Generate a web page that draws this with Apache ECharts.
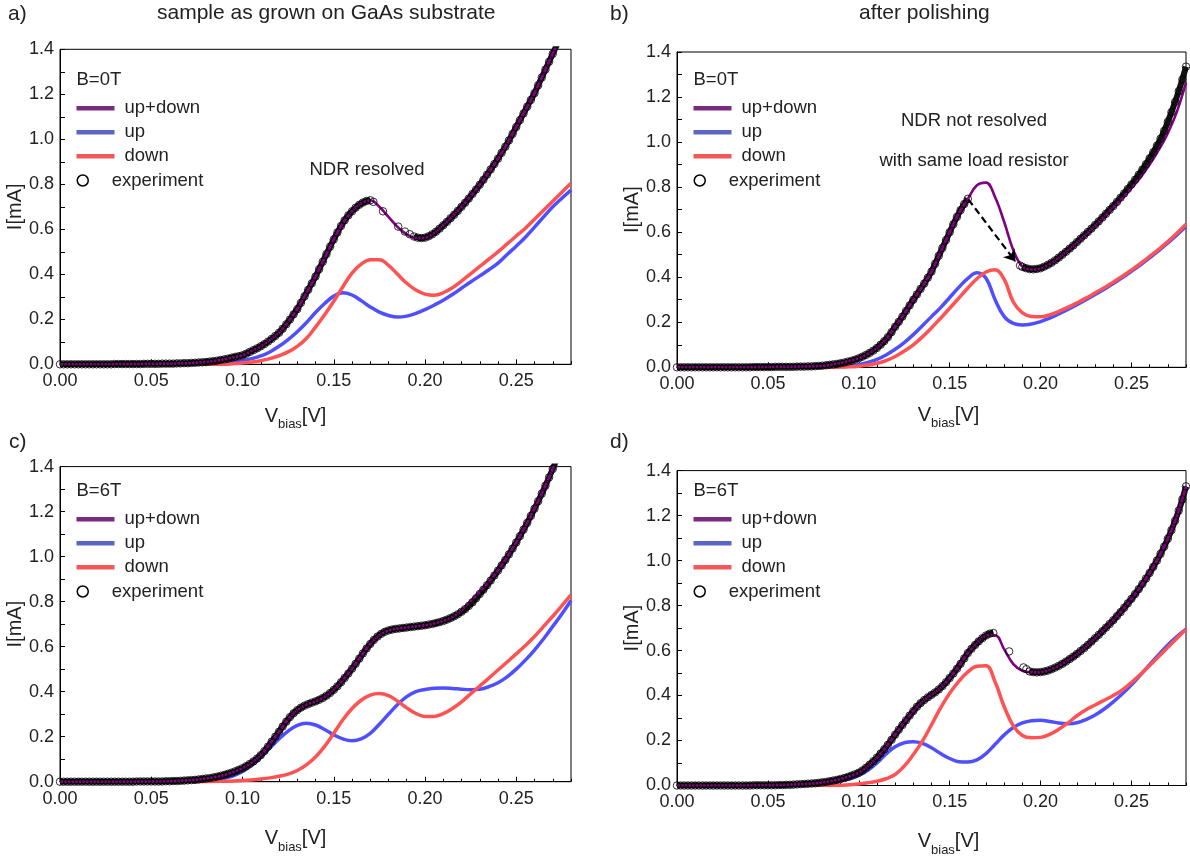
<!DOCTYPE html>
<html>
<head>
<meta charset="utf-8">
<script src="https://cdn.jsdelivr.net/npm/echarts@6/dist/echarts.min.js"></script>
<style>
  html, body { margin: 0; padding: 0; background: #fff; }
  #chart { width: 1190px; height: 860px; }
</style>
</head>
<body>
<div id="chart"></div>
<script>
// Bias voltage grid of the model curves [V]
const vModel = [
  0.000, 0.005, 0.010, 0.015, 0.020, 0.025, 0.030, 0.035, 0.040, 0.045,
  0.050, 0.055, 0.060, 0.065, 0.070, 0.075, 0.080, 0.085, 0.090, 0.095,
  0.100, 0.105, 0.110, 0.115, 0.120, 0.125, 0.130, 0.135, 0.140, 0.145,
  0.150, 0.155, 0.160, 0.165, 0.170, 0.175, 0.180, 0.185, 0.190, 0.195,
  0.200, 0.205, 0.210, 0.215, 0.220, 0.225, 0.230, 0.235, 0.240, 0.245,
  0.250, 0.255, 0.260, 0.265, 0.270, 0.275, 0.280
];

// Bias voltage grid of the measured I-V points [V]
const vExp = [
  0.000, 0.002, 0.004, 0.006, 0.008, 0.010, 0.012, 0.014, 0.016, 0.018,
  0.020, 0.022, 0.024, 0.026, 0.028, 0.030, 0.032, 0.034, 0.036, 0.038,
  0.040, 0.042, 0.044, 0.046, 0.048, 0.050, 0.052, 0.054, 0.056, 0.058,
  0.060, 0.062, 0.064, 0.066, 0.068, 0.070, 0.072, 0.074, 0.076, 0.078,
  0.080, 0.082, 0.084, 0.086, 0.088, 0.090, 0.092, 0.094, 0.096, 0.098,
  0.100, 0.102, 0.104, 0.106, 0.108, 0.110, 0.112, 0.114, 0.116, 0.118,
  0.120, 0.122, 0.124, 0.126, 0.128, 0.130, 0.132, 0.134, 0.136, 0.138,
  0.140, 0.142, 0.144, 0.146, 0.148, 0.150, 0.152, 0.154, 0.156, 0.158,
  0.160, 0.162, 0.164, 0.166, 0.168, 0.170, 0.172, 0.174, 0.176, 0.178,
  0.180, 0.182, 0.184, 0.186, 0.188, 0.190, 0.192, 0.194, 0.196, 0.198,
  0.200, 0.202, 0.204, 0.206, 0.208, 0.210, 0.212, 0.214, 0.216, 0.218,
  0.220, 0.222, 0.224, 0.226, 0.228, 0.230, 0.232, 0.234, 0.236, 0.238,
  0.240, 0.242, 0.244, 0.246, 0.248, 0.250, 0.252, 0.254, 0.256, 0.258,
  0.260, 0.262, 0.264, 0.266, 0.268, 0.270, 0.272, 0.274, 0.276, 0.278,
  0.280
];

// ---- a) as grown, B = 0 T ----  current [mA]
const sumA = [0,0,0,0,0,0,0.001,0.001,0.001,0.002,
  0.002,0.003,0.003,0.004,0.005,0.007,0.010,0.015,0.022,0.031,
  0.040,0.059,0.080,0.107,0.140,0.188,0.245,0.317,0.390,0.473,
  0.555,0.628,0.680,0.715,0.729,0.700,0.655,0.610,0.577,0.561,
  0.562,0.583,0.618,0.657,0.700,0.747,0.798,0.855,0.914,0.980,
  1.055,1.130,1.205,1.293,1.380,1.470,1.560];
const upA = [0,0,0,0,0,0,0,0,0,0,
  0,0,0,0,0,0,0.001,0.003,0.006,0.010,
  0.016,0.025,0.037,0.055,0.080,0.110,0.145,0.185,0.230,0.270,
  0.303,0.318,0.308,0.283,0.255,0.232,0.217,0.210,0.214,0.226,
  0.243,0.263,0.285,0.310,0.338,0.366,0.393,0.420,0.450,0.488,
  0.525,0.565,0.610,0.655,0.700,0.738,0.775];
const downA = [0,0,0,0,0,0,0,0,0,0,
  0,0,0,0,0,0,0,0,0,0.003,
  0.006,0.010,0.016,0.025,0.038,0.055,0.080,0.115,0.165,0.220,
  0.280,0.345,0.405,0.445,0.465,0.465,0.440,0.400,0.360,0.330,
  0.312,0.307,0.318,0.340,0.370,0.402,0.435,0.467,0.500,0.535,
  0.570,0.605,0.645,0.685,0.725,0.765,0.805];
const expA = [0,0,0,0,0,0,0,0,0,0,
  0,0,0,0,0,0.001,0.001,0.001,0.001,0.001,
  0.001,0.001,0.001,0.002,0.002,0.002,0.002,0.002,0.003,0.003,
  0.003,0.003,0.004,0.004,0.005,0.005,0.006,0.007,0.008,0.009,
  0.010,0.012,0.014,0.016,0.019,0.022,0.025,0.029,0.033,0.036,
  0.040,0.047,0.055,0.063,0.071,0.080,0.090,0.101,0.113,0.126,
  0.140,0.158,0.178,0.199,0.222,0.245,0.273,0.302,0.331,0.360,
  0.390,0.423,0.456,0.490,0.523,0.555,0.586,0.615,0.640,0.662,
  0.680,0.696,0.709,0.719,0.726,0.729,null,null,null,null,
  null,null,null,null,null,null,null,0.568,0.563,0.561,
  0.563,0.569,0.578,0.589,0.603,0.618,0.633,0.649,0.665,0.682,
  0.700,0.718,0.737,0.757,0.777,0.798,0.820,0.843,0.866,0.890,
  0.914,0.940,0.967,0.995,1.024,1.055,1.085,1.115,1.145,1.175,
  1.205,1.240,1.275,1.310,1.345,1.380,1.415,1.450,1.485,1.520,
  1.555];
const jumpA = [[0.1717, 0.722], [0.1770, 0.680], [0.1853, 0.612], [0.1890, 0.590], [0.1916, 0.578]];

// ---- b) after polishing, B = 0 T ----
const sumB = [0,0,0,0,0,0,0,0,0,0.001,
  0.001,0.002,0.002,0.003,0.004,0.005,0.007,0.012,0.020,0.030,
  0.040,0.060,0.086,0.125,0.180,0.238,0.300,0.360,0.425,0.512,
  0.600,0.683,0.748,0.808,0.820,0.755,0.645,0.520,0.447,0.434,
  0.438,0.458,0.485,0.518,0.553,0.590,0.628,0.668,0.710,0.750,
  0.795,0.843,0.900,0.965,1.040,1.135,1.265];
const upB = [0,0,0,0,0,0,0,0,0,0,
  0,0,0,0,0,0,0,0.002,0.003,0.006,
  0.012,0.022,0.035,0.055,0.080,0.110,0.145,0.185,0.225,0.265,
  0.310,0.355,0.395,0.420,0.395,0.300,0.225,0.195,0.188,0.192,
  0.203,0.218,0.237,0.257,0.278,0.300,0.323,0.347,0.372,0.398,
  0.426,0.455,0.486,0.518,0.552,0.588,0.625];
const downB = [0,0,0,0,0,0,0,0,0,0,
  0,0,0,0,0,0,0,0,0.001,0.002,
  0.005,0.010,0.018,0.030,0.048,0.072,0.100,0.135,0.175,0.218,
  0.262,0.307,0.352,0.393,0.423,0.433,0.390,0.290,0.242,0.226,
  0.224,0.233,0.248,0.266,0.286,0.307,0.330,0.353,0.378,0.404,
  0.432,0.461,0.492,0.524,0.558,0.595,0.635];
const expB = [0,0,0,0,0,0,0,0,0,0,
  0,0,0,0,0,0,0,0,0,0,
  0,0.001,0.001,0.001,0.001,0.001,0.001,0.002,0.002,0.002,
  0.002,0.002,0.002,0.003,0.003,0.003,0.004,0.004,0.005,0.006,
  0.007,0.009,0.011,0.013,0.015,0.018,0.021,0.025,0.029,0.034,
  0.040,0.047,0.055,0.064,0.074,0.086,0.100,0.116,0.134,0.156,
  0.180,0.202,0.225,0.250,0.275,0.300,0.324,0.348,0.372,0.398,
  0.425,0.460,0.495,0.530,0.565,0.600,0.635,0.668,0.698,0.725,
  0.748,null,null,null,null,null,null,null,null,null,
  null,null,null,null,null,0.446,0.440,0.436,0.435,0.437,
  0.440,0.447,0.455,0.464,0.475,0.487,0.500,0.513,0.527,0.541,
  0.556,0.571,0.586,0.601,0.616,0.632,0.648,0.665,0.682,0.699,
  0.716,0.734,0.753,0.772,0.792,0.812,0.833,0.855,0.878,0.902,
  0.928,0.955,0.984,1.015,1.050,1.090,1.133,1.178,1.226,1.278,
  1.335];
const jumpB = [[0.1887, 0.452]];

// ---- c) as grown, B = 6 T ----
const sumC = [0,0,0,0,0,0,0,0,0,0.001,
  0.001,0.001,0.002,0.004,0.006,0.009,0.014,0.021,0.030,0.043,
  0.060,0.084,0.118,0.168,0.222,0.277,0.318,0.342,0.357,0.377,
  0.408,0.452,0.502,0.558,0.612,0.651,0.672,0.680,0.685,0.690,
  0.695,0.703,0.714,0.731,0.760,0.803,0.845,0.888,0.938,0.998,
  1.063,1.135,1.213,1.298,1.390,1.490,1.600];
const upC = [0,0,0,0,0,0,0,0,0,0,
  0,0,0.001,0.001,0.002,0.003,0.005,0.009,0.015,0.026,
  0.045,0.073,0.108,0.150,0.190,0.225,0.250,0.260,0.252,0.232,
  0.208,0.190,0.182,0.190,0.215,0.255,0.300,0.343,0.378,0.400,
  0.410,0.415,0.416,0.414,0.411,0.409,0.411,0.422,0.440,0.466,
  0.500,0.540,0.585,0.635,0.690,0.745,0.805];
const downC = [0,0,0,0,0,0,0,0,0,0,
  0,0,0,0,0,0,0,0.001,0.002,0.003,
  0.005,0.008,0.012,0.017,0.024,0.034,0.050,0.075,0.110,0.157,
  0.215,0.275,0.325,0.362,0.385,0.392,0.382,0.358,0.328,0.303,
  0.290,0.290,0.302,0.325,0.355,0.390,0.425,0.460,0.496,0.532,
  0.568,0.605,0.645,0.690,0.735,0.782,0.830];
const expC = [0,0,0,0,0,0,0,0,0,0,
  0,0,0,0,0,0,0,0,0,0,
  0,0.001,0.001,0.001,0.001,0.001,0.001,0.001,0.001,0.002,
  0.002,0.003,0.003,0.004,0.005,0.006,0.007,0.008,0.010,0.012,
  0.014,0.016,0.019,0.022,0.026,0.030,0.035,0.040,0.046,0.053,
  0.060,0.069,0.079,0.090,0.103,0.118,0.136,0.156,0.178,0.200,
  0.222,0.245,0.267,0.287,0.304,0.318,0.329,0.338,0.345,0.351,
  0.357,0.364,0.372,0.382,0.394,0.408,0.424,0.442,0.461,0.481,
  0.502,0.524,0.547,0.570,0.592,0.612,0.630,0.645,0.657,0.666,
  0.672,0.676,0.679,0.681,0.683,0.685,0.687,0.689,0.691,0.693,
  0.695,0.698,0.701,0.705,0.709,0.714,0.720,0.727,0.735,0.744,
  0.755,0.767,0.781,0.797,0.815,0.834,0.853,0.873,0.894,0.916,
  0.938,0.961,0.985,1.010,1.036,1.063,1.091,1.120,1.150,1.181,
  1.213,1.246,1.280,1.315,1.352,1.390,1.430,1.470,1.510,1.550,
  1.590];
const jumpC = [];

// ---- d) after polishing, B = 6 T ----
const sumD = [0,0,0,0,0,0,0,0,0,0.001,
  0.001,0.002,0.003,0.005,0.007,0.009,0.014,0.020,0.029,0.041,
  0.057,0.086,0.124,0.171,0.226,0.280,0.331,0.373,0.403,0.434,
  0.478,0.530,0.589,0.633,0.667,0.668,0.605,0.540,0.510,0.503,
  0.504,0.514,0.532,0.556,0.585,0.618,0.655,0.694,0.735,0.780,
  0.830,0.884,0.945,1.015,1.097,1.199,1.330];
const upD = [0,0,0,0,0,0,0,0,0,0,
  0,0.001,0.002,0.003,0.004,0.006,0.009,0.013,0.020,0.030,
  0.045,0.068,0.100,0.140,0.172,0.190,0.194,0.187,0.168,0.142,
  0.120,0.106,0.104,0.114,0.142,0.183,0.225,0.258,0.278,0.288,
  0.290,0.285,0.278,0.275,0.279,0.293,0.313,0.340,0.372,0.408,
  0.448,0.492,0.537,0.582,0.625,0.662,0.695];
const downD = [0,0,0,0,0,0,0,0,0,0,
  0,0,0,0,0,0,0,0,0.001,0.003,
  0.007,0.012,0.019,0.030,0.049,0.086,0.138,0.197,0.270,0.345,
  0.410,0.463,0.505,0.530,0.532,0.460,0.350,0.265,0.222,0.212,
  0.214,0.227,0.250,0.278,0.310,0.337,0.358,0.379,0.400,0.425,
  0.458,0.494,0.533,0.573,0.614,0.655,0.695];
const expD = [0,0,0,0,0,0,0,0,0,0,
  0,0,0,0,0,0,0,0,0,0,
  0,0.001,0.001,0.001,0.001,0.001,0.001,0.001,0.002,0.002,
  0.003,0.003,0.004,0.005,0.006,0.007,0.008,0.009,0.010,0.012,
  0.014,0.016,0.019,0.022,0.025,0.029,0.033,0.038,0.044,0.050,
  0.057,0.067,0.079,0.093,0.108,0.124,0.142,0.161,0.181,0.203,
  0.226,0.248,0.269,0.290,0.311,0.331,0.350,0.366,0.380,0.392,
  0.403,0.414,0.427,0.442,0.459,0.478,0.498,0.519,0.541,0.565,
  0.589,0.608,0.625,0.641,0.655,0.667,0.675,0.678,null,null,
  null,null,null,null,null,null,null,0.507,0.504,0.503,
  0.504,0.507,0.511,0.517,0.524,0.532,0.541,0.551,0.562,0.573,
  0.585,0.598,0.611,0.625,0.640,0.655,0.670,0.686,0.702,0.718,
  0.735,0.753,0.771,0.790,0.810,0.830,0.851,0.873,0.896,0.920,
  0.945,0.972,1.000,1.030,1.062,1.097,1.135,1.177,1.222,1.272,
  1.330];
const jumpD = [[0.1827, 0.596], [0.1906, 0.525], [0.1922, 0.517]];

// Axis ticks
const xMax = 0.28, xMajor = 0.05, xMinor = 0.01;
const yMax = 1.4, yMajor = 0.2;

// Panel texts
const panelLetters = ['a)', 'b)', 'c)', 'd)'];
const fieldLabels = ['B=0T', 'B=0T', 'B=6T', 'B=6T'];
const legendNames = ['up+down', 'up', 'down', 'experiment'];

// Layout of the four plot boxes (px)
const boxes = [
  { left: 60,  top: 49.3,  width: 511, height: 315,   nameGap: 45, namePad: [0, 40, 0, 0], yGap: 28 },
  { left: 677, top: 52,    width: 509, height: 315.3, nameGap: 41, namePad: [0, 0, 0, 34], yGap: 35 },
  { left: 60,  top: 466.6, width: 511, height: 315.1, nameGap: 50, namePad: [0, 40, 0, 0], yGap: 28 },
  { left: 677, top: 470.6, width: 509, height: 314.9, nameGap: 49, namePad: [0, 0, 0, 34], yGap: 35 }
];
const legendRows = [108.2, 108.2, 519.2, 519.2];

const panels = [
  { sum: sumA, up: upA, down: downA, exp: expA, jump: jumpA },
  { sum: sumB, up: upB, down: downB, exp: expB, jump: jumpB },
  { sum: sumC, up: upC, down: downC, exp: expC, jump: jumpC },
  { sum: sumD, up: upD, down: downD, exp: expD, jump: jumpD }
];

const FONT = '"Liberation Sans", Arial, Helvetica, sans-serif';
const TXT = '#222';
const COL = { sum: '#800080', up: '#4f4fff', down: '#ff5252' };
const LEG = { sum: '#7b2a82', up: '#5a66c6', down: '#f25858' };

// keeps nulls so a line breaks where the measurement jumps
const pairsKeep = (xs, ys) => xs.map((x, i) => [x, ys[i]]);
const pairs = (xs, ys) => pairsKeep(xs, ys).filter(p => p[1] !== null);

const grid = [], xAxis = [], yAxis = [], series = [], legend = [], graphic = [];

boxes.forEach((b, i) => {
  grid.push({ left: b.left, top: b.top, width: b.width, height: b.height,
    show: true, borderColor: '#000', borderWidth: 1, backgroundColor: 'transparent' });

  // major ticks + labels
  xAxis.push({
    type: 'value', gridIndex: i, position: 'bottom', min: 0, max: xMax, interval: xMajor,
    axisLine: { show: true, lineStyle: { color: '#000', width: 1 } },
    axisTick: { show: true, inside: true, length: 5, lineStyle: { color: '#000' } },
    axisLabel: { formatter: v => v.toFixed(2), showMaxLabel: false, margin: 8,
      fontSize: 18, color: TXT, fontFamily: FONT },
    splitLine: { show: false },
    name: '{v|V}{s|bias}{v|[V]}', nameLocation: 'middle', nameGap: b.nameGap,
    nameTextStyle: {
      padding: b.namePad, color: TXT, fontFamily: FONT,
      rich: {
        v: { fontSize: 20, lineHeight: 22, padding: [0, 0, 5, 0], verticalAlign: 'bottom', color: TXT, fontFamily: FONT },
        s: { fontSize: 13, lineHeight: 13, verticalAlign: 'bottom', color: TXT, fontFamily: FONT }
      }
    }
  });
  // minor ticks
  xAxis.push({
    type: 'value', gridIndex: i, position: 'bottom', min: 0, max: xMax, interval: xMinor,
    axisLine: { show: false },
    axisTick: { show: true, inside: true, length: 3, lineStyle: { color: '#000' } },
    axisLabel: { show: false }, splitLine: { show: false }
  });

  yAxis.push({
    type: 'value', gridIndex: i, min: 0, max: yMax, interval: yMajor,
    axisLine: { show: true, lineStyle: { color: '#000', width: 1 } },
    axisTick: { show: true, inside: true, length: 5, lineStyle: { color: '#000' } },
    minorTick: { show: true, splitNumber: 2, length: 5, lineStyle: { color: '#000' } },
    axisLabel: { formatter: v => v.toFixed(1), margin: 6, fontSize: 18, color: TXT, fontFamily: FONT },
    splitLine: { show: false },
    name: 'I[mA]', nameLocation: 'middle', nameGap: b.yGap,
    nameTextStyle: { fontSize: 20, color: TXT, fontFamily: FONT }
  });

  const p = panels[i];
  const common = { xAxisIndex: 2 * i, yAxisIndex: i, showSymbol: false, smooth: 0.4,
    animation: false, silent: true };
  series.push(Object.assign({ type: 'line', name: 'up', data: pairs(vModel, p.up),
    lineStyle: { color: COL.up, width: 3.5 }, itemStyle: { color: COL.up }, z: 2 }, common));
  series.push(Object.assign({ type: 'line', name: 'down', data: pairs(vModel, p.down),
    lineStyle: { color: COL.down, width: 3.5 }, itemStyle: { color: COL.down }, z: 2 }, common));

  // dense measured points form a dark band under the circles
  series.push({
    type: 'line', name: 'experiment', xAxisIndex: 2 * i, yAxisIndex: i,
    data: pairsKeep(vExp, p.exp), connectNulls: false, showSymbol: false, smooth: 0.3,
    lineStyle: { color: '#111', width: 6 }, itemStyle: { color: '#111' },
    silent: true, animation: false, z: 3
  });

  series.push(Object.assign({ type: 'line', name: 'up+down', data: pairs(vModel, p.sum),
    lineStyle: { color: COL.sum, width: 2.6 }, itemStyle: { color: COL.sum }, z: 4 }, common));

  const expSeries = {
    type: 'scatter', name: 'experiment', xAxisIndex: 2 * i, yAxisIndex: i,
    data: pairs(vExp, p.exp).concat(p.jump),
    symbol: 'circle', symbolSize: 7.5, silent: true, animation: false, z: 5,
    itemStyle: { color: 'rgba(0,0,0,0)', borderColor: '#000', borderWidth: 1 }
  };
  if (i === 1) {
    // jump of the measured current across the NDR region
    expSeries.markLine = {
      silent: true, animation: false, symbol: ['none', 'arrow'], symbolSize: 11,
      label: { show: false },
      lineStyle: { color: '#000', width: 2.2, type: [7, 4] },
      data: [[{ coord: [0.1603, 0.745] }, { coord: [0.1862, 0.47] }]]
    };
  }
  series.push(expSeries);

  // legend: model curves
  const lx = b.left + 16.5;
  const ly = legendRows[i];
  legend.push({
    left: lx, top: ly - 12, padding: 0, orient: 'vertical', icon: 'rect', itemWidth: 38, itemHeight: 4.5,
    itemGap: 0, selectedMode: false,
    textStyle: { fontSize: 18.5, lineHeight: 24, color: TXT, fontFamily: FONT, padding: [0, 0, 0, 5] },
    data: [
      { name: legendNames[0], itemStyle: { color: LEG.sum } },
      { name: legendNames[1], itemStyle: { color: LEG.up } },
      { name: legendNames[2], itemStyle: { color: LEG.down } }
    ]
  });
  // legend: measurement
  legend.push({
    left: lx, top: ly + 72.3 - 12, padding: 0, orient: 'vertical', icon: 'circle', itemWidth: 38, itemHeight: 11,
    selectedMode: false,
    textStyle: { fontSize: 18.5, lineHeight: 24, color: TXT, fontFamily: FONT, padding: [0, 0, 0, 5] },
    data: [{ name: legendNames[3], itemStyle: { color: 'rgba(0,0,0,0)', borderColor: '#000', borderWidth: 1.5 } }]
  });

  graphic.push({ type: 'text', x: lx, y: ly - 28,
    style: { text: fieldLabels[i], fontSize: 18.5, fill: TXT, fontFamily: FONT, verticalAlign: 'middle' } });
});

// panel letters and titles
const letterPos = [[8, 4], [610, 4], [9, 432], [610, 432]];
letterPos.forEach((pos, i) => {
  graphic.push({ type: 'text', left: pos[0], top: pos[1],
    style: { text: panelLetters[i], fontSize: 21, fill: TXT, fontFamily: FONT } });
});
graphic.push({ type: 'text', left: 157, top: 3,
  style: { text: 'sample as grown on GaAs substrate', fontSize: 21, fill: TXT, fontFamily: FONT } });
graphic.push({ type: 'text', left: 859, top: 3,
  style: { text: 'after polishing', fontSize: 21, fill: TXT, fontFamily: FONT } });

// annotations
graphic.push({ type: 'text', x: 367, y: 169.5,
  style: { text: 'NDR resolved', fontSize: 18.5, fill: TXT, fontFamily: FONT, align: 'center', verticalAlign: 'middle' } });
graphic.push({ type: 'text', x: 974, y: 120.7,
  style: { text: 'NDR not resolved', fontSize: 18.5, fill: TXT, fontFamily: FONT, align: 'center', verticalAlign: 'middle' } });
graphic.push({ type: 'text', x: 974, y: 160.7,
  style: { text: 'with same load resistor', fontSize: 18.5, fill: TXT, fontFamily: FONT, align: 'center', verticalAlign: 'middle' } });

const chart = echarts.init(document.getElementById('chart'), null, { renderer: 'canvas' });
chart.setOption({
  backgroundColor: '#fff',
  animation: false,
  textStyle: { fontFamily: FONT },
  grid, xAxis, yAxis, series, legend, graphic
});
</script>
</body>
</html>
